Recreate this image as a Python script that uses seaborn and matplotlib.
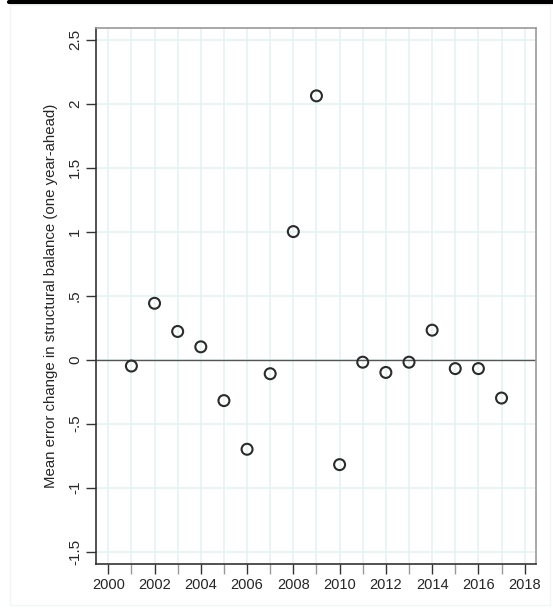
import matplotlib

matplotlib.use("Agg")
import matplotlib.pyplot as plt
import numpy as np
import pandas as pd
import seaborn as sns
from matplotlib.lines import Line2D
from matplotlib.patches import Rectangle


# Values.
YEARS = [2001, 2002, 2003, 2004, 2005, 2006, 2007, 2008, 2009,
         2010, 2011, 2012, 2013, 2014, 2015, 2016, 2017]
MEAN_ERROR = [-0.05, 0.44, 0.22, 0.10, -0.32, -0.70, -0.11, 1.00, 2.06,
              -0.82, -0.02, -0.10, -0.02, 0.23, -0.07, -0.07, -0.30]
Y_TICKS = [-1.5, -1, -0.5, 0, 0.5, 1, 1.5, 2, 2.5]
Y_TICK_LABELS = ["-1.5", "-1", "-.5", "0", ".5", "1", "1.5", "2", "2.5"]
X_TICKS = list(range(2000, 2019, 2))
Y_LABEL = "Mean error change in structural balance (one year-ahead)"


def main() -> None:
    sns.set_style("white")
    plt.rcParams["font.family"] = ["Liberation Sans", "DejaVu Sans"]

    df = pd.DataFrame({"year": YEARS, "error": MEAN_ERROR})

    fig = plt.figure(figsize=(5.53, 6.15), dpi=100)
    # Outer frame like the exported graph window.
    fig.add_artist(Line2D([9 / 553, 1], [1 - 2 / 615, 1 - 2 / 615],
                          transform=fig.transFigure, color="black", lw=3))
    fig.add_artist(Rectangle((10 / 553, 10 / 615), 540 / 553, 600 / 615,
                             transform=fig.transFigure, fill=False,
                             edgecolor="#f2f5f6", lw=1))

    ax = fig.add_axes([96 / 553, 1 - 564 / 615, 440 / 553, 536 / 615])

    # Light grid on every year and every half unit.
    for yr in range(2000, 2019):
        ax.axvline(yr, color="#e8f2f4", lw=1.2, zorder=0)
    for yv in Y_TICKS:
        ax.axhline(yv, color="#e8f2f4", lw=1.2, zorder=0)
    ax.axhline(0, color="#555555", lw=1, zorder=1)

    sns.scatterplot(data=df, x="year", y="error", ax=ax, marker="o",
                    s=62, facecolor="none", edgecolor="#2b2b2b",
                    linewidth=1.5, zorder=3, legend=False)

    ax.set_xlim(1999.47, 2018.49)
    ax.set_ylim(-1.596, 2.59)
    ax.set_xticks(X_TICKS)
    ax.set_xticks(list(range(2001, 2018, 2)), minor=True)
    ax.set_yticks(Y_TICKS)
    ax.set_yticklabels(Y_TICK_LABELS, rotation=90, va="center")
    ax.tick_params(axis="x", which="major", direction="out", length=7,
                   width=1, color="#333333", labelsize=10.5, pad=3,
                   bottom=True)
    ax.tick_params(axis="y", which="major", direction="out", length=7,
                   width=1, color="#333333", labelsize=11, pad=3,
                   left=True)
    ax.tick_params(axis="x", which="minor", direction="out", length=7,
                   width=1, color="#999999", bottom=True)
    ax.set_xlabel("")
    ax.set_ylabel(Y_LABEL, fontsize=10.8, labelpad=7)

    for side in ["left", "bottom"]:
        ax.spines[side].set_color("#333333")
        ax.spines[side].set_linewidth(1.2)
    for side in ["top", "right"]:
        ax.spines[side].set_color("#999999")
        ax.spines[side].set_linewidth(1.2)

    fig.savefig("out.png", dpi=100)
    plt.close(fig)


if __name__ == "__main__":
    main()
